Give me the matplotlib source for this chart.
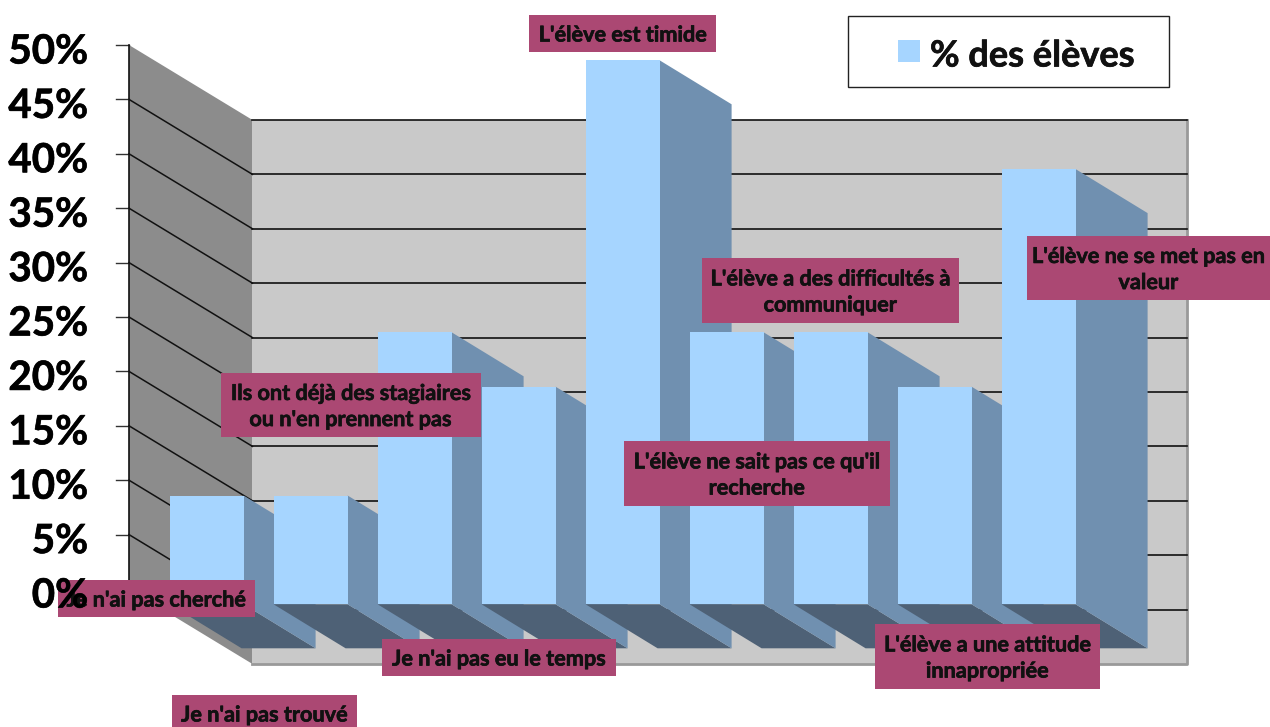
import matplotlib
matplotlib.use('Agg')
import matplotlib.pyplot as plt
import matplotlib.patheffects as pe
from matplotlib.patches import Polygon, Rectangle

plt.rcParams['font.family'] = ['Lato', 'DejaVu Sans']

categories = ["Je n'ai pas cherché", "Je n'ai pas trouvé", "Ils ont déjà des stagiaires\nou n'en prennent pas",
              "Je n'ai pas eu le temps", "L'élève est timide", "L'élève ne sait pas ce qu'il\nrecherche",
              "L'élève a des difficultés à\ncommuniquer", "L'élève a une attitude\ninnapropriée",
              "L'élève ne se met pas en\nvaleur"]
values = [10, 10, 25, 20, 50, 25, 25, 20, 40]
ticks = [0, 5, 10, 15, 20, 25, 30, 35, 40, 45, 50]
series_name = '% des élèves'

# label boxes in picture pixels: left, top, right, bottom
label_boxes = [(58, 580, 255, 617), (172, 695, 357, 732), (221, 373, 481, 437),
               (382, 639, 616, 676), (529, 15, 716, 52), (624, 441, 890, 506),
               (702, 258, 959, 323), (875, 624, 1100, 689), (1027, 236, 1270, 300)]

W, H = 1270, 727
PX_X = 104.0     # pixels per category
PX_Y = 54.4 / 5  # pixels per percent
X0, Y0 = 206.6, 604.3  # pixel of first bar centre and of the bars' base

FRONT = '#A6D5FF'
SIDE = '#7090B0'
BOTTOM = '#4E6176'
WALL = '#8C8C8C'
BACK = '#C9C9C9'
LABEL = '#AB4873'

# the original font is a bit heavier than Lato bold
heavy = [pe.withStroke(linewidth=0.5, foreground='#111111')]


def px(x, y):
    return (x - X0) / PX_X, (Y0 - y) / PX_Y


fig = plt.figure(figsize=(W / 100, H / 100), dpi=100)
ax = fig.add_axes([0, 0, 1, 1])
ax.set_xlim(px(0, 0)[0], px(W, 0)[0])
ax.set_ylim(px(0, H)[1], px(0, 0)[1])
ax.axis('off')

# depth of the fake 3d, in data units
bar_w = 74 / PX_X
depth_x = 72 / PX_X
depth_y = 44 / PX_Y
axis_x = px(129, 0)[0]
back_x = px(252.5, 0)[0]
right_x = px(1187.5, 0)[0]
front_dy = px(0, 589)[1]
back_dy = px(0, 664)[1]

# walls
ax.add_patch(Polygon([(axis_x, 50 + front_dy), (back_x, 50 + back_dy), (back_x, back_dy), (axis_x, front_dy)],
                     fc=WALL, ec='none', zorder=1))
ax.add_patch(Polygon([(back_x, 50 + back_dy), (right_x, 50 + back_dy), (right_x, back_dy), (back_x, back_dy)],
                     fc=BACK, ec='none', zorder=1))
ax.plot([right_x, right_x, back_x], [50 + back_dy, back_dy, back_dy], color='#999999', lw=2, zorder=1.5)

# grid, ticks and tick labels
for t in ticks:
    if t > 0:
        ax.plot([back_x, right_x], [t + back_dy] * 2, color='#111111', lw=1.2, zorder=2)
    if 0 < t < 50:
        ax.plot([axis_x, back_x], [t + front_dy, t + back_dy], color='#111111', lw=1.1, zorder=2)
    ax.plot([px(116, 0)[0], axis_x], [t + front_dy] * 2, color='#333333', lw=1, zorder=2)
    ax.text(px(88, 0)[0], t + front_dy - 7 / PX_Y, f'{t}%', ha='right', va='center', fontsize=29,
            fontweight='bold', color='black', zorder=6, path_effects=heavy)
ax.plot([axis_x, axis_x], [front_dy, 50 + front_dy], color='#111111', lw=1.2, zorder=2)

# bars, left to right so that each one hides the side of the one before
for i, v in enumerate(values):
    left = i - bar_w / 2
    right = i + bar_w / 2
    z = 3 + i * 0.01
    ax.add_patch(Polygon([(left, 0), (right, 0), (right + depth_x, -depth_y), (left + depth_x, -depth_y)],
                         fc=BOTTOM, ec='none', zorder=z))
    ax.add_patch(Polygon([(right, 0), (right, v), (right + depth_x, v - depth_y), (right + depth_x, -depth_y)],
                         fc=SIDE, ec='none', zorder=z))
    ax.add_patch(Rectangle((left, 0), bar_w, v, fc=FRONT, ec='none', zorder=z))

# labels
for text, (l, t, r, b) in zip(categories, label_boxes):
    x0, y0 = px(l, b)
    x1, y1 = px(r, t)
    ax.add_patch(Rectangle((x0, y0), x1 - x0, y1 - y0, fc=LABEL, ec='none', zorder=4))
    ax.text((x0 + x1) / 2, (y0 + y1) / 2 - 1.5 / PX_Y, text, ha='center', va='center', fontsize=15.6,
            fontweight='bold', color='#111111', linespacing=1.3, zorder=5, path_effects=heavy)

# legend box
x0, y0 = px(848, 87)
x1, y1 = px(1169, 15.5)
ax.add_patch(Rectangle((x0, y0), x1 - x0, y1 - y0, fc='white', ec='#222222', lw=1, zorder=4))
x0, y0 = px(898, 62)
x1, y1 = px(920, 40)
ax.add_patch(Rectangle((x0, y0), x1 - x0, y1 - y0, fc=FRONT, ec='none', zorder=5))
ax.text(px(930, 0)[0], px(0, 56)[1], series_name, ha='left', va='center', fontsize=26,
        fontweight='bold', color='#111111', zorder=5, path_effects=heavy)

fig.savefig('out.png', dpi=100)
